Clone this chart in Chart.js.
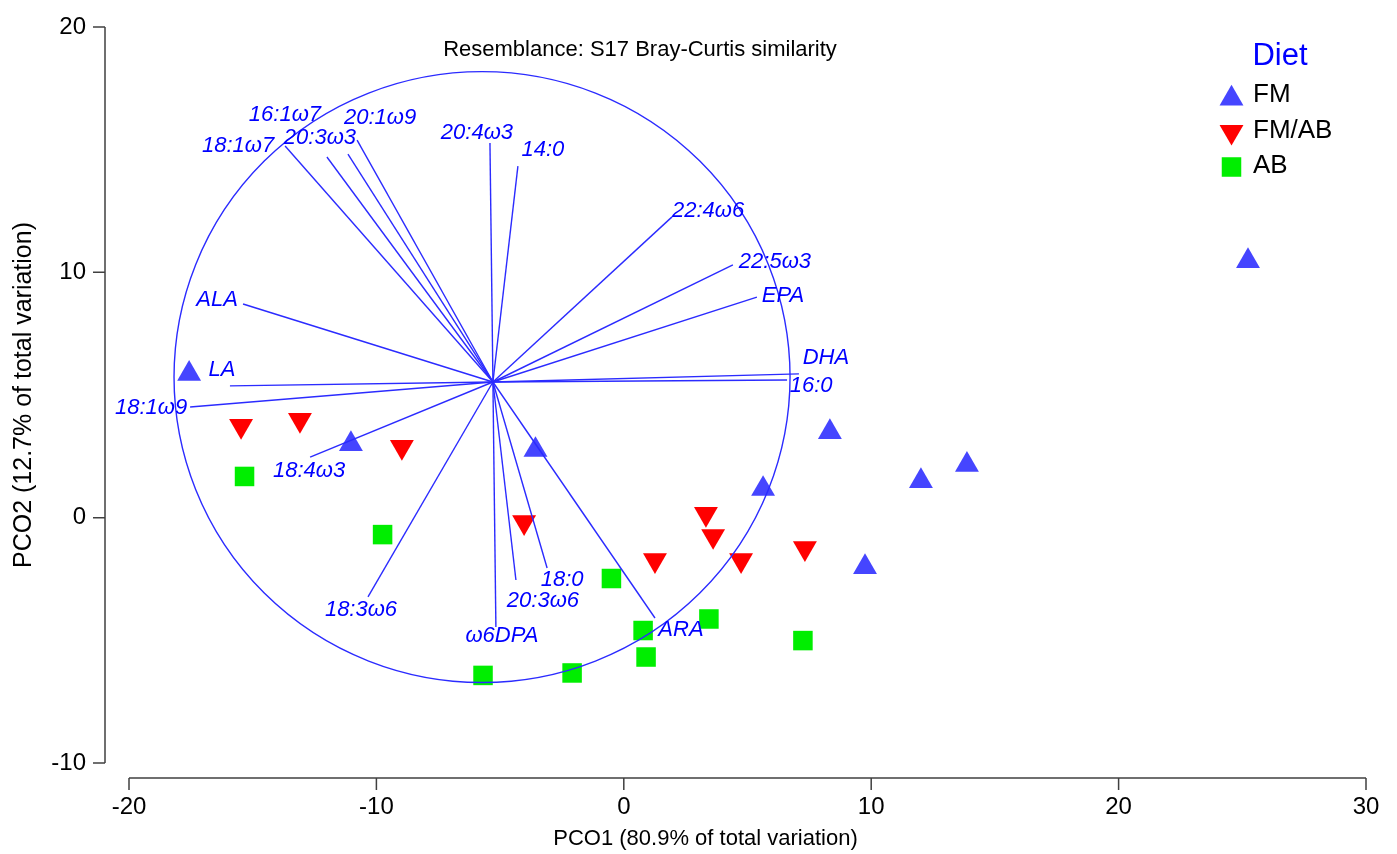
<!DOCTYPE html>
<html>
<head>
<meta charset="utf-8">
<script src="https://cdn.jsdelivr.net/npm/chart.js@4.4.1/dist/chart.umd.min.js"></script>
<style>
html,body{margin:0;padding:0;background:#fff;}
canvas{display:block;}
</style>
</head>
<body>
<canvas id="c" width="1397" height="854"></canvas>
<script>
// ---------------- data ----------------
const xTicks = [-20, -10, 0, 10, 20, 30];
const yTicks = [-10, 0, 10, 20];

const seriesNames = ['FM', 'FM/AB', 'AB'];

const fmX = [-17.57, -11.03, -3.57, 8.33, 12.01, 13.87, 5.63, 9.75, 25.23];
const fmY = [5.86, 3.00, 2.76, 3.49, 1.49, 2.15, 1.17, -2.01, 10.46];

const fmabX = [-15.47, -13.09, -8.97, -4.03, 3.32, 3.61, 1.26, 4.74, 7.32];
const fmabY = [3.74, 3.98, 2.88, -0.18, 0.15, -0.75, -1.73, -1.73, -1.24];

const abX = [-15.33, -9.75, -0.50, 0.78, 0.90, 3.44, -5.69, -2.09, 7.24];
const abY = [1.68, -0.69, -2.48, -4.60, -5.68, -4.13, -6.43, -6.33, -5.01];

const vectorOrigin = { x: -5.29, y: 5.53 };
const vectorNames = ['18:1ω7', '16:1ω7', '20:3ω3', '20:1ω9', '20:4ω3', '14:0', '22:4ω6', '22:5ω3', 'EPA', 'DHA',
  '16:0', 'ALA', 'LA', '18:1ω9', '18:4ω3', '18:3ω6', 'ω6DPA', '20:3ω6', '18:0', 'ARA'];
const vectorEndX = [-13.69, -12.00, -11.15, -10.78, -5.41, -4.28, 1.95, 4.41, 5.38, 7.08,
  6.60, -15.39, -15.92, -17.53, -12.68, -10.34, -5.17, -4.36, -3.10, 1.26];
const vectorEndY = [15.15, 14.70, 14.82, 15.39, 15.27, 14.33, 12.26, 10.30, 8.99, 5.86,
  5.61, 8.71, 5.37, 4.51, 2.47, -3.23, -4.46, -2.54, -2.05, -4.09];

const circleCenter = { x: -5.73, y: 5.73 };
const circleRadius = 12.45;

const chartTitle = 'Resemblance: S17 Bray-Curtis similarity';
const xTitle = 'PCO1 (80.9% of total variation)';
const yTitle = 'PCO2 (12.7% of total variation)';
const legendTitle = 'Diet';

// ---------------- layout / style (not data) ----------------
const FONT = '"Liberation Sans", Arial, Helvetica, sans-serif';
const BLUE_LINE = '#2b2bff';
const BLUE_TEXT = '#0000ff';
const COLORS = { 'FM': '#4545ff', 'FM/AB': '#ff0000', 'AB': '#00ee00' };
const MARK_R = 13.8;
// label centre offsets (px) from vector tips
const labelOffsets = {
  '18:1ω7': [-47, 0], '16:1ω7': [-42, -42], '20:3ω3': [-28, -16], '20:1ω9': [23, -22],
  '20:4ω3': [-13, -10], '14:0': [25, -16], '22:4ω6': [36, -6], '22:5ω3': [42, -3],
  'EPA': [26, -1], 'DHA': [27, -16], '16:0': [24, 6], 'ALA': [-26, -4], 'LA': [-8, -16],
  '18:1ω9': [-39, 1], '18:4ω3': [-1, 14], '18:3ω6': [-7, 13], 'ω6DPA': [6, 9],
  '20:3ω6': [27, 21], '18:0': [15, 12], 'ARA': [26, 12]
};

Chart.defaults.font.family = FONT;
Chart.defaults.color = '#000';

function drawMarker(ctx, style, x, y, r, rot) {
  ctx.beginPath();
  if (style === 'triangle') {
    let rad = rot * Math.PI / 180;
    ctx.moveTo(x + Math.sin(rad) * r, y - Math.cos(rad) * r);
    rad += 2 * Math.PI / 3;
    ctx.lineTo(x + Math.sin(rad) * r, y - Math.cos(rad) * r);
    rad += 2 * Math.PI / 3;
    ctx.lineTo(x + Math.sin(rad) * r, y - Math.cos(rad) * r);
    ctx.closePath();
  } else {
    const s = Math.SQRT1_2 * r;
    ctx.rect(x - s, y - s, 2 * s, 2 * s);
  }
  ctx.fill();
}

const datasets = [];
vectorNames.forEach((n, i) => {
  datasets.push({
    label: n,
    data: [vectorOrigin, { x: vectorEndX[i], y: vectorEndY[i] }],
    showLine: true,
    borderColor: BLUE_LINE,
    borderWidth: 1.4,
    pointRadius: 0,
    pointHoverRadius: 0,
    order: 0
  });
});
const zip = (xs, ys) => xs.map((v, i) => ({ x: v, y: ys[i] }));
datasets.push({ label: 'FM', data: zip(fmX, fmY), pointStyle: 'triangle', pointRotation: 0,
  pointRadius: MARK_R, backgroundColor: COLORS['FM'], borderWidth: 0, pointBorderWidth: 0, showLine: false, order: 1 });
datasets.push({ label: 'FM/AB', data: zip(fmabX, fmabY), pointStyle: 'triangle', pointRotation: 180,
  pointRadius: MARK_R, backgroundColor: COLORS['FM/AB'], borderWidth: 0, pointBorderWidth: 0, showLine: false, order: 1 });
datasets.push({ label: 'AB', data: zip(abX, abY), pointStyle: 'rect',
  pointRadius: MARK_R, backgroundColor: COLORS['AB'], borderWidth: 0, pointBorderWidth: 0, showLine: false, order: 1 });

const overlay = {
  id: 'overlay',
  afterDatasetsDraw(chart) {
    const { ctx, scales: { x, y } } = chart;
    ctx.save();
    // circle
    const cxp = x.getPixelForValue(circleCenter.x), cyp = y.getPixelForValue(circleCenter.y);
    const rx = Math.abs(x.getPixelForValue(circleCenter.x + circleRadius) - cxp);
    const ry = Math.abs(y.getPixelForValue(circleCenter.y + circleRadius) - cyp);
    ctx.beginPath();
    ctx.ellipse(cxp, cyp, rx, ry, 0, 0, Math.PI * 2);
    ctx.strokeStyle = BLUE_LINE;
    ctx.lineWidth = 1.4;
    ctx.stroke();
    // vector labels
    ctx.font = 'italic 22px ' + FONT;
    ctx.fillStyle = BLUE_TEXT;
    ctx.textAlign = 'center';
    ctx.textBaseline = 'middle';
    vectorNames.forEach((n, i) => {
      const px = x.getPixelForValue(vectorEndX[i]), py = y.getPixelForValue(vectorEndY[i]);
      const o = labelOffsets[n] || [0, 0];
      ctx.fillText(n, px + o[0], py + o[1]);
    });
    ctx.restore();
  },
  afterDraw(chart) {
    const { ctx, chartArea, scales: { x, y } } = chart;
    ctx.save();
    ctx.strokeStyle = '#404040';
    ctx.lineWidth = 1.5;
    // y axis (detached)
    const ax = chartArea.left - 24;
    ctx.beginPath();
    ctx.moveTo(ax, y.getPixelForValue(yTicks[yTicks.length - 1]));
    ctx.lineTo(ax, y.getPixelForValue(yTicks[0]));
    yTicks.forEach(v => {
      const p = y.getPixelForValue(v);
      ctx.moveTo(ax - 12, p); ctx.lineTo(ax, p);
    });
    ctx.stroke();
    // x axis (detached)
    const ay = chartArea.bottom + 15;
    ctx.beginPath();
    ctx.moveTo(x.getPixelForValue(xTicks[0]), ay);
    ctx.lineTo(x.getPixelForValue(xTicks[xTicks.length - 1]), ay);
    xTicks.forEach(v => {
      const p = x.getPixelForValue(v);
      ctx.moveTo(p, ay); ctx.lineTo(p, ay + 12);
    });
    ctx.stroke();

    // x title
    ctx.fillStyle = '#000';
    ctx.textAlign = 'center';
    ctx.textBaseline = 'middle';
    ctx.font = '22px ' + FONT;
    ctx.fillText(xTitle, (chartArea.left + chartArea.right) / 2 - 42, 839);

    // chart title
    ctx.font = '22px ' + FONT;
    ctx.fillText(chartTitle, 640, 50);

    // legend
    ctx.font = '31px ' + FONT;
    ctx.fillStyle = BLUE_TEXT;
    ctx.fillText(legendTitle, 1280, 56);
    const rows = [
      { name: 'FM', style: 'triangle', rot: 0, my: 98.5, ty: 95 },
      { name: 'FM/AB', style: 'triangle', rot: 180, my: 131.8, ty: 130.5 },
      { name: 'AB', style: 'rect', rot: 0, my: 167, ty: 166 }
    ];
    ctx.textAlign = 'left';
    ctx.font = '26px ' + FONT;
    rows.forEach(r => {
      ctx.fillStyle = COLORS[r.name];
      drawMarker(ctx, r.style, 1231.5, r.my, MARK_R, r.rot);
      ctx.fillStyle = '#000';
      ctx.fillText(r.name, 1253, r.ty);
    });
    ctx.restore();
  }
};

new Chart(document.getElementById('c'), {
  type: 'scatter',
  data: { datasets },
  options: {
    responsive: false,
    animation: false,
    devicePixelRatio: 1,
    layout: { padding: { top: 27, right: 31, left: 0, bottom: 0 } },
    plugins: { legend: { display: false }, tooltip: { enabled: false }, title: { display: false } },
    events: [],
    scales: {
      x: {
        type: 'linear', min: -20, max: 30,
        afterBuildTicks: s => { s.ticks = xTicks.map(v => ({ value: v })); },
        afterFit: s => { s.height = 91; s.paddingLeft = 0; s.paddingRight = 0; },
        grid: { display: false, drawTicks: false },
        border: { display: false },
        ticks: { font: { size: 24 }, color: '#000', padding: 30, autoSkip: false, maxRotation: 0 }
      },
      y: {
        type: 'linear', min: -10, max: 20,
        afterBuildTicks: s => { s.ticks = yTicks.map(v => ({ value: v })); },
        afterFit: s => { s.width = 129; s.paddingTop = 0; s.paddingBottom = 0; },
        grid: { display: false, drawTicks: false },
        border: { display: false },
        ticks: { font: { size: 24 }, color: '#000', padding: 43, autoSkip: false },
        title: { display: true, text: yTitle, font: { size: 25 }, color: '#000', padding: { top: 9, bottom: 0 } }
      }
    }
  },
  plugins: [overlay]
});
</script>
</body>
</html>
